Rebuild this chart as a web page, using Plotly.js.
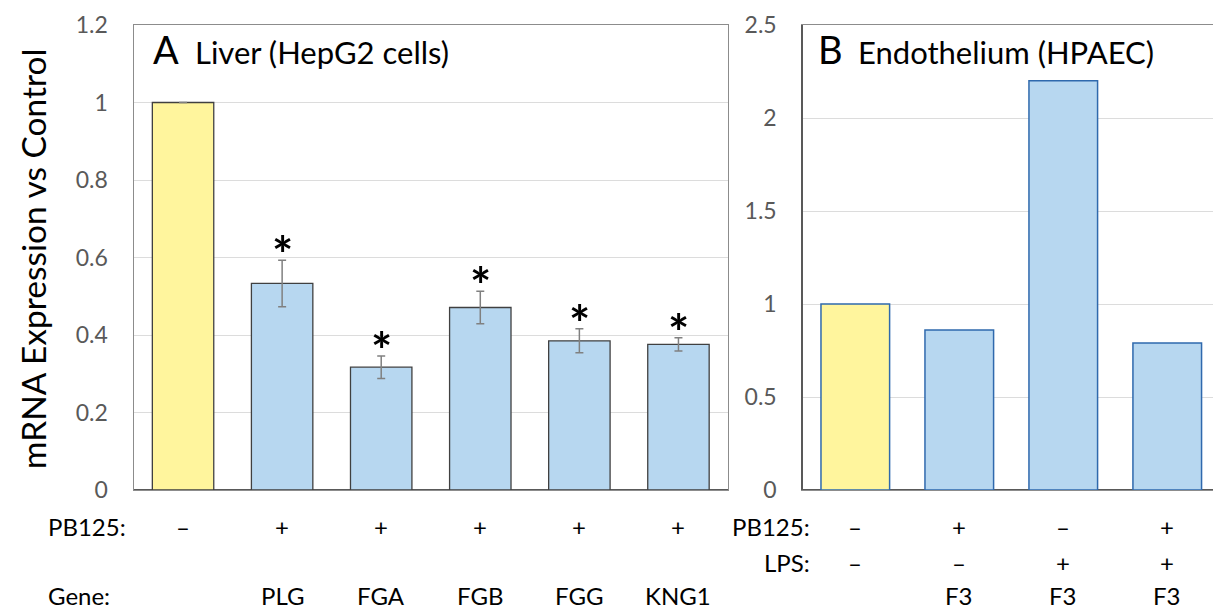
<!DOCTYPE html>
<html><head><meta charset="utf-8">
<script src="https://cdn.plot.ly/plotly-3.0.1.min.js"></script>
<style>html,body{margin:0;padding:0;background:#fff}#chart{width:1213px;height:611px}</style>
</head><body><div id="chart"></div>
<script>
// ---- data ----
const liverGenes = ['', 'PLG', 'FGA', 'FGB', 'FGG', 'KNG1'];
const liverPB125 = ['–', '+', '+', '+', '+', '+'];
const liverValues = [1.0, 0.533, 0.317, 0.471, 0.385, 0.376];
const liverErrors = [0, 0.060, 0.029, 0.042, 0.031, 0.017];
const liverSignificant = [false, true, true, true, true, true];

const endoPB125 = ['–', '+', '–', '+'];
const endoLPS = ['–', '–', '+', '+'];
const endoGenes = ['', 'F3', 'F3', 'F3'];
const endoValues = [1.0, 0.86, 2.2, 0.79];

const yTicksA = [0, 0.2, 0.4, 0.6, 0.8, 1, 1.2];
const yTicksB = [0, 0.5, 1, 1.5, 2, 2.5];

const rowLabelsA = ['PB125:', 'Gene:'];
const rowLabelsB = ['PB125:', 'LPS:'];
const yTitle = 'mRNA Expression vs Control';
const panelA = ['A', 'Liver (HepG2 cells)'];
const panelB = ['B', 'Endothelium (HPAEC)'];

// ---- layout helpers ----
const W = 1213, H = 611;
const px = v => v / W;
const py = v => 1 - v / H;
const YELLOW = '#fff59d', BLUE = '#b7d7f0';
const FONT = 'Lato, "Open Sans", sans-serif';

const idxA = liverValues.map((_, i) => i);
const idxB = endoValues.map((_, i) => i);

const traces = [
  {
    type: 'bar', x: idxA, y: liverValues, xaxis: 'x', yaxis: 'y', width: 0.62,
    marker: { color: idxA.map(i => i === 0 ? YELLOW : BLUE), line: { color: '#404040', width: 1.3 } },
    error_y: { type: 'data', array: liverErrors, visible: true, color: '#808080', thickness: 1.5, width: 4 },
    hoverinfo: 'y', showlegend: false
  },
  {
    type: 'bar', x: idxB, y: endoValues, xaxis: 'x2', yaxis: 'y2', width: 0.66,
    marker: { color: idxB.map(i => i === 0 ? YELLOW : BLUE), line: { color: '#2f69ad', width: 1.5 } },
    hoverinfo: 'y', showlegend: false
  }
];

const ann = [];
// y title
ann.push({ xref: 'paper', yref: 'paper', x: px(33), y: py(259), text: yTitle, textangle: -90,
  showarrow: false, xanchor: 'center', yanchor: 'middle', font: { family: FONT, size: 33.5, color: '#000' } });
// panel titles
ann.push({ xref: 'paper', yref: 'paper', x: px(151), y: py(49), text: panelA[0], showarrow: false,
  xanchor: 'left', yanchor: 'middle', font: { family: FONT, size: 38, color: '#000' } });
ann.push({ xref: 'paper', yref: 'paper', x: px(193), y: py(52), text: panelA[1], showarrow: false,
  xanchor: 'left', yanchor: 'middle', font: { family: FONT, size: 31, color: '#000' } });
ann.push({ xref: 'paper', yref: 'paper', x: px(816), y: py(49), text: panelB[0], showarrow: false,
  xanchor: 'left', yanchor: 'middle', font: { family: FONT, size: 38, color: '#000' } });
ann.push({ xref: 'paper', yref: 'paper', x: px(856), y: py(52), text: panelB[1], showarrow: false,
  xanchor: 'left', yanchor: 'middle', font: { family: FONT, size: 31, color: '#000' } });
// asterisks
idxA.forEach(i => {
  if (liverSignificant[i]) ann.push({ xref: 'x', yref: 'y', x: i, y: liverValues[i] + liverErrors[i],
    text: '<b>*</b>', showarrow: false, xanchor: 'center', yanchor: 'middle', yshift: 6,
    font: { family: FONT, size: 50, color: '#000' } });
});
// bottom rows
const lblFont = { family: FONT, size: 24, color: '#000' };
const ROW1 = 526, ROW2 = 562, ROW3 = 595;
ann.push({ xref: 'paper', yref: 'paper', x: px(46), y: py(ROW1), text: rowLabelsA[0], showarrow: false, xanchor: 'left', yanchor: 'middle', font: lblFont });
ann.push({ xref: 'paper', yref: 'paper', x: px(46), y: py(ROW3), text: rowLabelsA[1], showarrow: false, xanchor: 'left', yanchor: 'middle', font: lblFont });
ann.push({ xref: 'paper', yref: 'paper', x: px(812), y: py(ROW1), text: rowLabelsB[0], showarrow: false, xanchor: 'right', yanchor: 'middle', font: lblFont });
ann.push({ xref: 'paper', yref: 'paper', x: px(812), y: py(ROW2), text: rowLabelsB[1], showarrow: false, xanchor: 'right', yanchor: 'middle', font: lblFont });
idxA.forEach(i => {
  ann.push({ xref: 'x', yref: 'paper', x: i, y: py(ROW1), text: liverPB125[i], showarrow: false, xanchor: 'center', yanchor: 'middle', font: lblFont });
  if (liverGenes[i]) ann.push({ xref: 'x', yref: 'paper', x: i, y: py(ROW3), text: liverGenes[i], showarrow: false, xanchor: 'center', yanchor: 'middle', font: lblFont });
});
idxB.forEach(i => {
  ann.push({ xref: 'x2', yref: 'paper', x: i, y: py(ROW1), text: endoPB125[i], showarrow: false, xanchor: 'center', yanchor: 'middle', font: lblFont });
  ann.push({ xref: 'x2', yref: 'paper', x: i, y: py(ROW2), text: endoLPS[i], showarrow: false, xanchor: 'center', yanchor: 'middle', font: lblFont });
  if (endoGenes[i]) ann.push({ xref: 'x2', yref: 'paper', x: i, y: py(ROW3), text: endoGenes[i], showarrow: false, xanchor: 'center', yanchor: 'middle', font: lblFont });
});

const tickFont = { family: FONT, size: 23, color: '#595959' };
const layout = {
  width: W, height: H,
  margin: { l: 0, r: 0, t: 0, b: 0 },
  paper_bgcolor: '#fff', plot_bgcolor: '#fff',
  font: { family: FONT },
  showlegend: false,
  xaxis: { domain: [px(133.5), px(728)], range: [-0.5, 5.5], showticklabels: false, showgrid: false,
    zeroline: false, showline: true, linecolor: '#8c8c8c', linewidth: 1, mirror: true, ticks: '', fixedrange: true },
  yaxis: { domain: [py(490), py(25)], range: [0, 1.2], tickvals: yTicksA, ticktext: yTicksA.map(String),
    gridcolor: '#dcdcdc', gridwidth: 1, showline: true, linecolor: '#8c8c8c', linewidth: 1, mirror: true,
    zeroline: true, zerolinecolor: '#595959', zerolinewidth: 1.5, tickfont: tickFont,
    ticks: '', ticklabelstandoff: 20, fixedrange: true },
  xaxis2: { domain: [px(803.3), 1], range: [-0.5, 3.44], anchor: 'y2', showticklabels: false, showgrid: false,
    zeroline: false, showline: true, linecolor: '#8c8c8c', linewidth: 1, mirror: true, ticks: '', fixedrange: true },
  yaxis2: { domain: [py(490), py(25)], range: [0, 2.5], anchor: 'x2', tickvals: yTicksB, ticktext: yTicksB.map(String),
    gridcolor: '#dcdcdc', gridwidth: 1, showline: true, linecolor: '#595959', linewidth: 2, mirror: false,
    zeroline: true, zerolinecolor: '#595959', zerolinewidth: 2, tickfont: tickFont,
    ticks: '', ticklabelstandoff: 20, fixedrange: true },
  annotations: ann
};

Plotly.newPlot('chart', traces, layout, { displayModeBar: false, staticPlot: true });
</script>
</body></html>
